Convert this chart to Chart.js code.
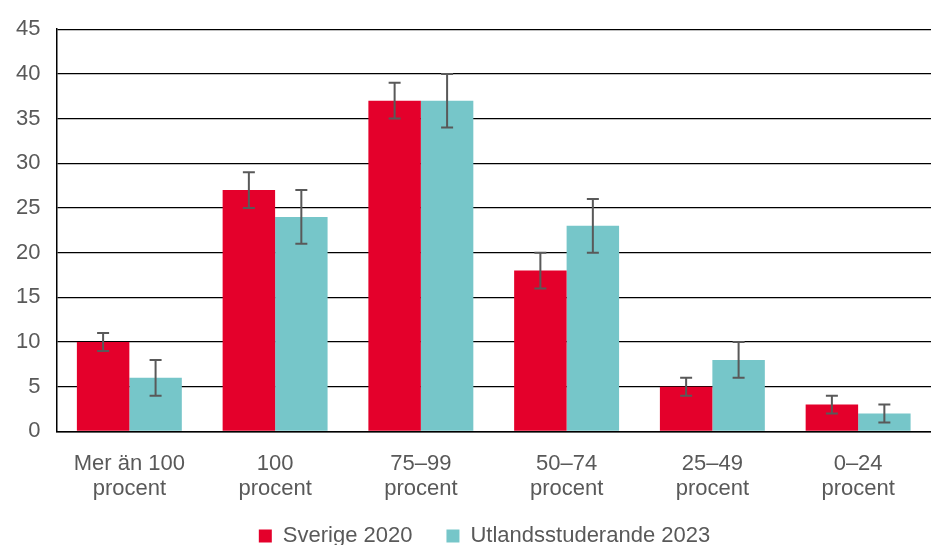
<!DOCTYPE html>
<html>
<head>
<meta charset="utf-8">
<script src="https://cdn.jsdelivr.net/npm/chart.js@4"></script>
<style>
  html, body { margin: 0; padding: 0; background: #fff; }
  #wrap { width: 931px; height: 545px; }
</style>
</head>
<body>
<div id="wrap"><canvas id="chart"></canvas></div>
<script>
const categories = [['Mer än 100', 'procent'], ['100', 'procent'], ['75–99', 'procent'], ['50–74', 'procent'], ['25–49', 'procent'], ['0–24', 'procent']];
const sverige = [10, 27, 37, 18, 5, 3];
const sverigeLow = [9, 25, 35, 16, 4, 2];
const sverigeHigh = [11, 29, 39, 20, 6, 4];
const utland = [6, 24, 37, 23, 8, 2];
const utlandLow = [4, 21, 34, 20, 6, 1];
const utlandHigh = [8, 27, 40, 26, 10, 3];

// Draw error bars on top of the bars
const errorBars = {
    id: 'errorBars',
    afterDatasetsDraw(chart) {
        const ctx = chart.ctx;
        const y = chart.scales.y;
        chart.data.datasets.forEach((ds, i) => {
            const meta = chart.getDatasetMeta(i);
            meta.data.forEach((bar, j) => {
                const top = y.getPixelForValue(ds.errHigh[j]);
                const bottom = y.getPixelForValue(ds.errLow[j]);
                ctx.save();
                ctx.strokeStyle = '#595959';
                ctx.lineWidth = 2;
                ctx.beginPath();
                ctx.moveTo(bar.x, top);
                ctx.lineTo(bar.x, bottom);
                ctx.moveTo(bar.x - 6, top);
                ctx.lineTo(bar.x + 6, top);
                ctx.moveTo(bar.x - 6, bottom);
                ctx.lineTo(bar.x + 6, bottom);
                ctx.stroke();
                ctx.restore();
            });
        });
    }
};

// Nudge the legend a bit to the right, like the original
const legendShift = {
    id: 'legendShift',
    afterLayout(chart) {
        chart.legend.left += 19;
        chart.legend.right += 19;
    }
};

const font = { family: 'Liberation Sans, Arial', size: 22 };

new Chart(document.getElementById('chart'), {
    type: 'bar',
    data: {
        labels: categories,
        datasets: [{
            label: 'Sverige 2020',
            data: sverige,
            errLow: sverigeLow,
            errHigh: sverigeHigh,
            backgroundColor: '#E4002B'
        }, {
            label: 'Utlandsstuderande 2023',
            data: utland,
            errLow: utlandLow,
            errHigh: utlandHigh,
            backgroundColor: '#76C6C9'
        }]
    },
    options: {
        responsive: true,
        maintainAspectRatio: false,
        animation: false,
        layout: { padding: { top: -4, left: 0, right: 0, bottom: -12 } },
        datasets: {
            bar: { barPercentage: 1, categoryPercentage: 0.72 }
        },
        plugins: {
            legend: {
                position: 'bottom',
                labels: {
                    font: font,
                    color: '#595959',
                    boxWidth: 13,
                    boxHeight: 13,
                    padding: 34
                }
            },
            tooltip: { enabled: false }
        },
        scales: {
            x: {
                grid: { display: false },
                border: { color: '#000', width: 1.5 },
                afterFit: function(scale) {
                    scale.height -= 23;
                    // let the labels run past the shortened axis box
                    scale._computeLabelArea = function() { return null; };
                },
                ticks: {
                    font: { family: 'Liberation Sans, Arial', size: 22, lineHeight: 1.15 },
                    color: '#595959',
                    maxRotation: 0,
                    padding: 12
                }
            },
            y: {
                min: 0,
                max: 45,
                ticks: {
                    stepSize: 5,
                    font: font,
                    color: '#595959',
                    padding: 16
                },
                grid: { color: '#000', lineWidth: 1.3, drawTicks: false },
                border: { color: '#000', width: 1.5 }
            }
        }
    },
    plugins: [errorBars, legendShift]
});
</script>
</body>
</html>
